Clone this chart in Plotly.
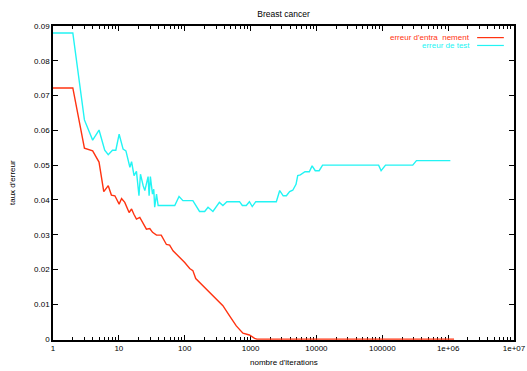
import plotly.graph_objects as go

# ---- data ----
train_x = [1, 2, 3, 4, 5, 5.9, 6.9, 7.7, 8.7, 10.1, 11, 12.3, 14.3, 15.6, 16.9, 18.5, 20.8,
           23.4, 26.2, 29.5, 32.5, 37.3, 44, 52.8, 59, 66.5, 84, 100, 119, 133, 147, 158,
           189, 270, 380, 480, 607, 765, 960, 1150, 1250, 1.23e6]
train_y = [0.0722, 0.0722, 0.0549, 0.0541, 0.0509, 0.0424, 0.0441, 0.0414, 0.0412, 0.0388,
           0.0404, 0.0393, 0.0364, 0.0374, 0.0359, 0.0345, 0.0350, 0.0331, 0.0316, 0.0318,
           0.0307, 0.0299, 0.0299, 0.0272, 0.0270, 0.0254, 0.0235, 0.0220, 0.0203, 0.0197,
           0.0174, 0.0168, 0.0153, 0.0125, 0.0096, 0.0067, 0.0038, 0.0017, 0.0012, 0.0002,
           0.0, 0.0]

test_x = [1, 2, 3, 4, 5, 6.1, 6.9, 8, 9, 10.1, 11.6, 12.8, 14.7, 15.6, 17, 18.5, 20.2, 21.3,
          23.4, 24.8, 26.2, 27.8, 28.8, 30.1, 32.4, 33.9, 35, 37.3, 39.5, 70.6, 82, 94, 133,
          168, 201, 226, 268, 336, 380, 437, 680, 750, 860, 960, 1060, 1200, 2460, 2770,
          3130, 3500, 3920, 4370, 4900, 5200, 5700, 6700, 7800, 8600, 9600, 11000, 12400,
          88000, 96000, 112000, 290000, 330000, 1.08e6]
test_y = [0.088, 0.088, 0.063, 0.0572, 0.0601, 0.0543, 0.0530, 0.0543, 0.0543, 0.0589,
          0.0546, 0.0541, 0.0494, 0.0510, 0.0470, 0.0482, 0.0412, 0.0474, 0.0441, 0.0427,
          0.0446, 0.0467, 0.0412, 0.0467, 0.0417, 0.0431, 0.0379, 0.0417, 0.0384, 0.0384,
          0.0410, 0.0398, 0.0398, 0.0367, 0.0367, 0.0379, 0.0367, 0.0393, 0.0384, 0.0395,
          0.0395, 0.0384, 0.0384, 0.0395, 0.0381, 0.0395, 0.0395, 0.0427, 0.0412, 0.0412,
          0.0424, 0.0428, 0.0445, 0.0470, 0.0472, 0.0481, 0.0481, 0.0498, 0.0484, 0.0484,
          0.0500, 0.0500, 0.0484, 0.0500, 0.0500, 0.0513, 0.0513]

series_names = ["erreur d'entra\u00a0\u00a0nement", "erreur de test"]
series_colors = ["#ff3311", "#22f4f4"]

x_tickvals = [1, 10, 100, 1000, 10000, 100000, 1e6, 1e7]
x_ticktext = ["1", "10", "100", "1000", "10000", "100000", "1e+06", "1e+07"]
y_tickvals = [0, 0.01, 0.02, 0.03, 0.04, 0.05, 0.06, 0.07, 0.08, 0.09]
y_ticktext = ["0", "0.01", "0.02", "0.03", "0.04", "0.05", "0.06", "0.07", "0.08", "0.09"]
x_minor = [m * 10 ** d for d in range(7) for m in range(2, 10)]

FONT = "Liberation Sans, Arial, sans-serif"

fig = go.Figure()
for xs, ys, name, col in [(train_x, train_y, series_names[0], series_colors[0]),
                          (test_x, test_y, series_names[1], series_colors[1])]:
    fig.add_trace(go.Scatter(x=xs, y=ys, mode="lines", name=name,
                             line=dict(color=col, width=1.4), showlegend=False))

# legend drawn gnuplot-style (text right-aligned, sample on the right)
for i, (name, col) in enumerate(zip(series_names, series_colors)):
    yp = 0.963 - i * 0.025
    fig.add_annotation(xref="paper", yref="paper", x=0.909, y=yp, text=name,
                       showarrow=False, xanchor="right", yanchor="middle",
                       font=dict(family=FONT, size=8, color=col))
    fig.add_shape(type="line", xref="paper", yref="paper", x0=0.92, x1=0.978,
                  y0=yp, y1=yp, line=dict(color=col, width=1.2))

# axis titles placed like the reference
fig.add_annotation(xref="paper", yref="paper", x=(12 - 53) / 461, y=0.5,
                   text="taux d'erreur", textangle=-90, showarrow=False,
                   xanchor="center", yanchor="middle",
                   font=dict(family=FONT, size=8, color="black"))
fig.add_annotation(xref="paper", yref="paper", x=0.5, y=(340 - 362) / 314,
                   text="nombre d'iterations", showarrow=False,
                   xanchor="center", yanchor="middle",
                   font=dict(family=FONT, size=8, color="black"))

fig.update_layout(
    width=527, height=371,
    margin=dict(l=53, r=13, t=26, b=31),
    paper_bgcolor="white", plot_bgcolor="white",
    title=dict(text="Breast cancer", x=(53 + 514) / 2 / 527, xanchor="center",
               y=1 - 14 / 371, yanchor="middle",
               font=dict(family=FONT, size=8.5, color="black")),
    font=dict(family=FONT, size=8, color="black"),
)
fig.update_xaxes(type="log", range=[0, 7], tickmode="array", tickvals=x_tickvals,
                 ticktext=x_ticktext, ticks="inside", ticklen=5, tickwidth=1,
                 tickcolor="black", showline=True, linecolor="black", linewidth=1.5,
                 mirror="ticks", showgrid=False, zeroline=False, automargin=False,
                 layer="below traces",
                 minor=dict(tickmode="array", tickvals=x_minor, ticks="inside",
                            ticklen=3, tickcolor="black", showgrid=False),
                 tickfont=dict(family=FONT, size=8))
fig.update_yaxes(range=[-0.00025, 0.09], tickmode="array", tickvals=y_tickvals,
                 ticktext=y_ticktext, ticks="inside", ticklen=5, tickwidth=1,
                 tickcolor="black", showline=True, linecolor="black", linewidth=1.5,
                 mirror="ticks", showgrid=False, zeroline=False, automargin=False,
                 layer="below traces",
                 tickfont=dict(family=FONT, size=8))

fig.write_html("out.html")
